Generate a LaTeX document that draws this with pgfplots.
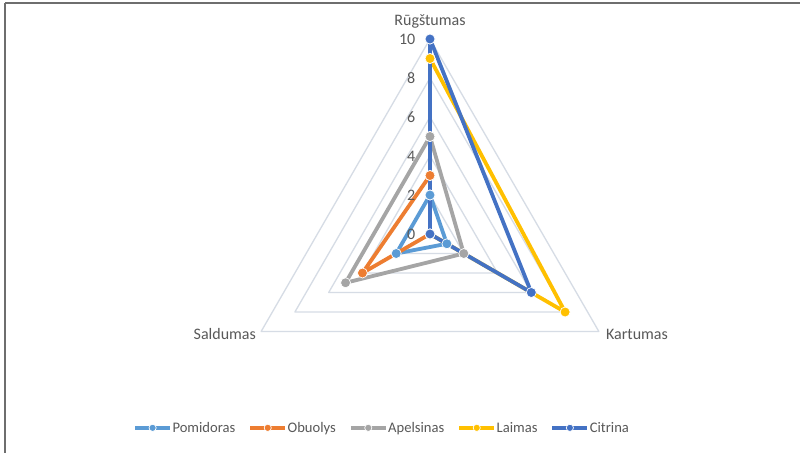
\documentclass[border=0pt]{standalone}
\usepackage{pgfplots}
\pgfplotsset{compat=1.18}
\usepgfplotslibrary{polar}
\usepackage{fontspec}
\setmainfont{Carlito}

\definecolor{txt}{HTML}{595959}
\definecolor{gridc}{HTML}{D6DCE5}
\definecolor{frame}{HTML}{6E6E6E}
\definecolor{cPom}{HTML}{5B9BD5}
\definecolor{cObu}{HTML}{ED7D31}
\definecolor{cApe}{HTML}{A5A5A5}
\definecolor{cLai}{HTML}{FFC000}
\definecolor{cCit}{HTML}{4472C4}

\newcommand{\lblfont}{\fontsize{16}{19}\selectfont}
\newcommand{\legfont}{\fontsize{14.6}{17}\selectfont}

\begin{document}
\begin{tikzpicture}
\useasboundingbox (0pt,0pt) rectangle (800pt,-453pt);
\fill[white] (0pt,0pt) rectangle (800pt,-453pt);
\draw[frame, line width=1.6pt] (5pt,-3pt) -- (800pt,-3pt);
\draw[frame, line width=1.6pt] (5pt,-3pt) -- (5pt,-453pt);

\begin{polaraxis}[
  at={(430pt,-234pt)}, anchor=center,
  scale only axis, width=390pt, height=390pt,
  xmin=0, xmax=360, ymin=0, ymax=10,
  hide axis, clip=false,
  every axis plot/.append style={line width=3.8pt, line join=round,
    mark=*, mark size=5pt, mark options={draw=white, line width=0.7pt}},
  legend style={at={(axis description cs:-0.2615,0.003)}, anchor=west,
    draw=none, fill=none, inner sep=0pt, font=\legfont, text=txt,
    legend columns=-1,
    nodes={inner xsep=0.5pt, inner ysep=0pt},
    /tikz/every odd column/.append style={column sep=0pt},
    /tikz/every even column/.append style={column sep=12.5pt}},
  legend image code/.code={
    \draw[#1, line width=3.8pt, mark repeat=2, mark phase=2, mark size=3.6pt]
      plot coordinates {(0pt,0pt) (17.5pt,0pt) (35pt,0pt)};},
]
% triangular grid
\pgfplotsinvokeforeach{2,4,6,8,10}{
  \addplot[gridc, line width=1.3pt, mark=none, forget plot]
    coordinates {(90,#1) (330,#1) (210,#1) (90,#1)};
}
% series: Rūgštumas (90), Kartumas (330), Saldumas (210)
\addplot[cPom] coordinates {(90,2) (330,1) (210,2) (90,2)};
\addlegendentry{Pomidoras}
\addplot[cObu] coordinates {(90,3) (330,0) (210,4) (90,3)};
\addlegendentry{Obuolys}
\addplot[cApe] coordinates {(90,5) (330,2) (210,5) (90,5)};
\addlegendentry{Apelsinas}
\addplot[cLai] coordinates {(90,9) (330,8) (210,0) (90,9)};
\addlegendentry{Laimas}
\addplot[cCit] coordinates {(90,10) (330,6) (210,0) (90,10)};
\addlegendentry{Citrina}

% radial tick labels
\pgfplotsinvokeforeach{0,2,4,6,8,10}{
  \node[anchor=east, inner sep=0pt, text=txt, font=\lblfont, xshift=-14.5pt]
    at (axis cs:90,#1) {#1};
}
% category labels
\node[anchor=base, inner sep=0pt, text=txt, font=\lblfont, yshift=14pt]
  at (axis cs:90,10) {Rūgštumas};
\node[anchor=base west, inner sep=0pt, text=txt, font=\lblfont, xshift=7pt, yshift=-8pt]
  at (axis cs:330,10) {Kartumas};
\node[anchor=base east, inner sep=0pt, text=txt, font=\lblfont, xshift=-5pt, yshift=-8pt]
  at (axis cs:210,10) {Saldumas};
\end{polaraxis}
\end{tikzpicture}
\end{document}
